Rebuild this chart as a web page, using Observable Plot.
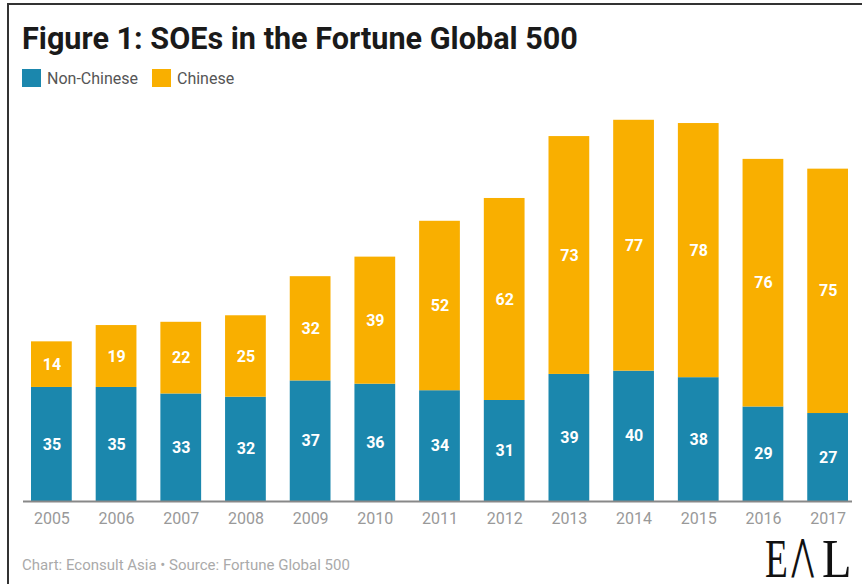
<!DOCTYPE html>
<html>
<head>
<meta charset="utf-8">
<script src="https://cdn.jsdelivr.net/npm/d3@7"></script>
<script src="https://cdn.jsdelivr.net/npm/@observablehq/plot@0.6"></script>
<style>
  html, body { margin: 0; padding: 0; background: #fff; }
  #frame { position: relative; width: 862px; height: 584px; overflow: hidden; background: #fff; font-family: Roboto, "Noto Sans", sans-serif; }
  #border { position: absolute; left: 7px; top: 3px; right: -10px; bottom: -10px; border-left: 2px solid #333; border-top: 2px solid #333; }
  #title { position: absolute; left: 22px; top: 21px; font-size: 30.6px; font-weight: 700; color: #1a1a1a; white-space: nowrap; }
  #legend { position: absolute; left: 22px; top: 69px; height: 18px; font-size: 16px; color: #555; display: flex; align-items: center; }
  .sw { display: inline-block; width: 19px; height: 18px; margin-right: 6px; }
  .item { display: flex; align-items: center; margin-right: 14px; }
  #chart { position: absolute; left: 0; top: 95px; }
  #caption { position: absolute; left: 22px; top: 556px; font-size: 15px; color: #aaa; white-space: nowrap; }
  .logo { position: absolute; color: #111; transform-origin: left top; line-height: 0.7; white-space: nowrap; }
</style>
</head>
<body>
<div id="frame">
  <div id="border"></div>
  <div id="title">Figure 1: SOEs in the Fortune Global 500</div>
  <div id="legend"></div>
  <div id="chart"></div>
  <div id="caption">Chart: Econsult Asia • Source: Fortune Global 500</div>
  <span class="logo" style="left:765px; top:540px; font-family:'Liberation Serif', serif; font-size:55px; transform: scaleX(0.68);">E</span>
  <span class="logo" style="left:790px; top:541px; font-family:Roboto, sans-serif; font-weight:300; font-size:53px; transform: scaleX(0.74);">Λ</span>
  <span class="logo" style="left:822px; top:540px; font-family:'Liberation Serif', serif; font-size:55px; transform: scaleX(0.88);">L</span>
</div>
<script>
const years = ["2005","2006","2007","2008","2009","2010","2011","2012","2013","2014","2015","2016","2017"];
const nonChinese = [35, 35, 33, 32, 37, 36, 34, 31, 39, 40, 38, 29, 27];
const chinese = [14, 19, 22, 25, 32, 39, 52, 62, 73, 77, 78, 76, 75];
const seriesNames = ["Non-Chinese", "Chinese"];
const seriesColors = ["#1b87ad", "#f9af00"];

const data = [];
years.forEach((y, i) => {
  data.push({year: y, series: seriesNames[0], value: nonChinese[i]});
  data.push({year: y, series: seriesNames[1], value: chinese[i]});
});

const legend = document.getElementById("legend");
seriesNames.forEach((s, i) => {
  const it = document.createElement("div");
  it.className = "item";
  it.innerHTML = `<span class="sw" style="background:${seriesColors[i]}"></span><span>${s}</span>`;
  legend.appendChild(it);
});

const chart = Plot.plot({
  width: 862,
  height: 440,
  marginLeft: 31,
  marginRight: 14,
  marginTop: 15,
  marginBottom: 34,
  style: {fontFamily: "Roboto, 'Noto Sans', sans-serif", background: "transparent"},
  x: {domain: years, paddingInner: 0.37, paddingOuter: 0, round: false, label: null},
  y: {domain: [0, 120], axis: null},
  color: {domain: seriesNames, range: seriesColors},
  marks: [
    Plot.barY(data, Plot.stackY({x: "year", y: "value", z: "series", fill: "series", order: seriesNames})),
    Plot.text(data, Plot.stackY({x: "year", y: "value", z: "series", order: seriesNames, text: d => String(d.value), fill: "white", fontSize: 16, fontWeight: 700})),
    Plot.ruleY([0], {stroke: "#888", strokeWidth: 2, insetLeft: -8, insetRight: -4}),
    Plot.axisX({tickSize: 0, tickPadding: 11, fontSize: 16, color: "#999", label: null})
  ]
});
document.getElementById("chart").appendChild(chart);
</script>
</body>
</html>
